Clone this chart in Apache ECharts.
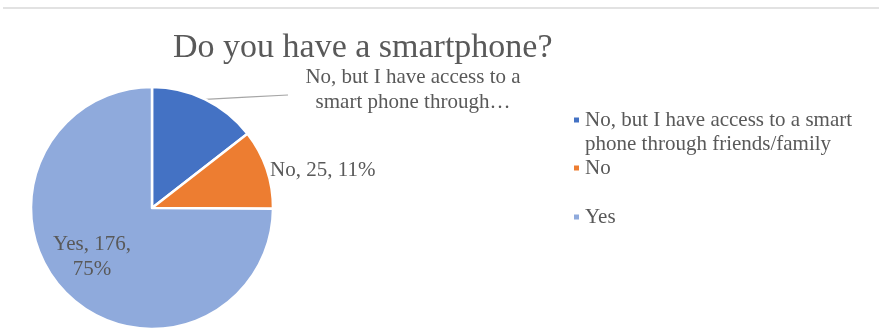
<!DOCTYPE html>
<html>
<head>
<meta charset="utf-8">
<script src="https://cdn.jsdelivr.net/npm/echarts@6/dist/echarts.min.js"></script>
<style>
  html, body { margin: 0; padding: 0; background: #fff; }
  #chart { width: 879px; height: 335px; }
</style>
</head>
<body>
<div id="chart"></div>
<script>
// Survey answers, counts and slice colours
const categories = [
  'No, but I have access to a smart phone through friends/family',
  'No',
  'Yes'
];
const counts = [34, 25, 176];
const sliceColors = ['#4472C4', '#ED7D31', '#8FAADC'];
const titleText = 'Do you have a smartphone?';

const FONT = '"Liberation Serif", "Times New Roman", serif';
const TEXT_COLOR = '#595959';

// where each data label sits: [x, y, align]
const labelSpots = [
  [413, 90, 'center'],
  [270, 170, 'left'],
  [92, 257, 'center']
];
const labelPlacement = ['outside', 'outside', 'inside'];

const chart = echarts.init(document.getElementById('chart'), null, { renderer: 'canvas' });

const pieData = categories.map((name, i) => ({
  name: name,
  value: counts[i],
  itemStyle: { color: sliceColors[i] },
  label: { position: labelPlacement[i] },
  labelLine: { show: i === 0 }
}));

function sliceLabel(p) {
  if (p.dataIndex === 0) return 'No, but I have access to a\nsmart phone through…';
  if (p.dataIndex === 2) return p.name + ', ' + p.value + ',\n' + Math.round(p.percent) + '%';
  return p.name + ', ' + p.value + ', ' + Math.round(p.percent) + '%';
}

function legendText(name) {
  if (name === categories[0]) return '\u00a0\nNo, but I have access to a smart\nphone through friends/family';
  return name;
}

const legendBase = {
  orient: 'vertical',
  left: 572,
  padding: 0,
  itemGap: 0,
  itemWidth: 7,
  itemHeight: 7,
  icon: 'rect',
  selectedMode: false,
  formatter: legendText,
  textStyle: { fontFamily: FONT, fontSize: 21, lineHeight: 24, color: TEXT_COLOR }
};

chart.setOption({
  animation: false,
  title: {
    text: titleText,
    left: 173,
    top: 31,
    padding: 0,
    textStyle: { fontFamily: FONT, fontSize: 34, fontWeight: 'normal', color: TEXT_COLOR }
  },
  legend: [
    Object.assign({}, legendBase, { top: 84, data: [categories[0], categories[1]] }),
    Object.assign({}, legendBase, { top: 205, data: [categories[2]] })
  ],
  graphic: [{
    type: 'line',
    shape: { x1: 3, y1: 8, x2: 879, y2: 8 },
    style: { stroke: '#D9D9D9', lineWidth: 1.5 }
  }],
  series: [{
    type: 'pie',
    center: [152, 208],
    radius: 121,
    startAngle: 90,
    clockwise: true,
    percentPrecision: 0,
    avoidLabelOverlap: false,
    itemStyle: { borderColor: '#ffffff', borderWidth: 2.5 },
    label: {
      show: true,
      position: 'outside',
      formatter: sliceLabel,
      fontFamily: FONT,
      fontSize: 21,
      lineHeight: 25,
      color: TEXT_COLOR
    },
    labelLine: {
      show: true,
      lineStyle: { color: '#A6A6A6', width: 1.2 }
    },
    labelLayout: function (params) {
      const s = labelSpots[params.dataIndex];
      const out = { x: s[0], y: s[1], align: s[2], verticalAlign: 'middle' };
      if (params.dataIndex === 0 && params.labelLinePoints) {
        const p0 = params.labelLinePoints[0];
        const end = [s[0] - 125, s[1] + 5];
        out.labelLinePoints = [p0, [(p0[0] + end[0]) / 2, (p0[1] + end[1]) / 2], end];
      }
      return out;
    },
    emphasis: { disabled: true },
    data: pieData
  }]
});
</script>
</body>
</html>
